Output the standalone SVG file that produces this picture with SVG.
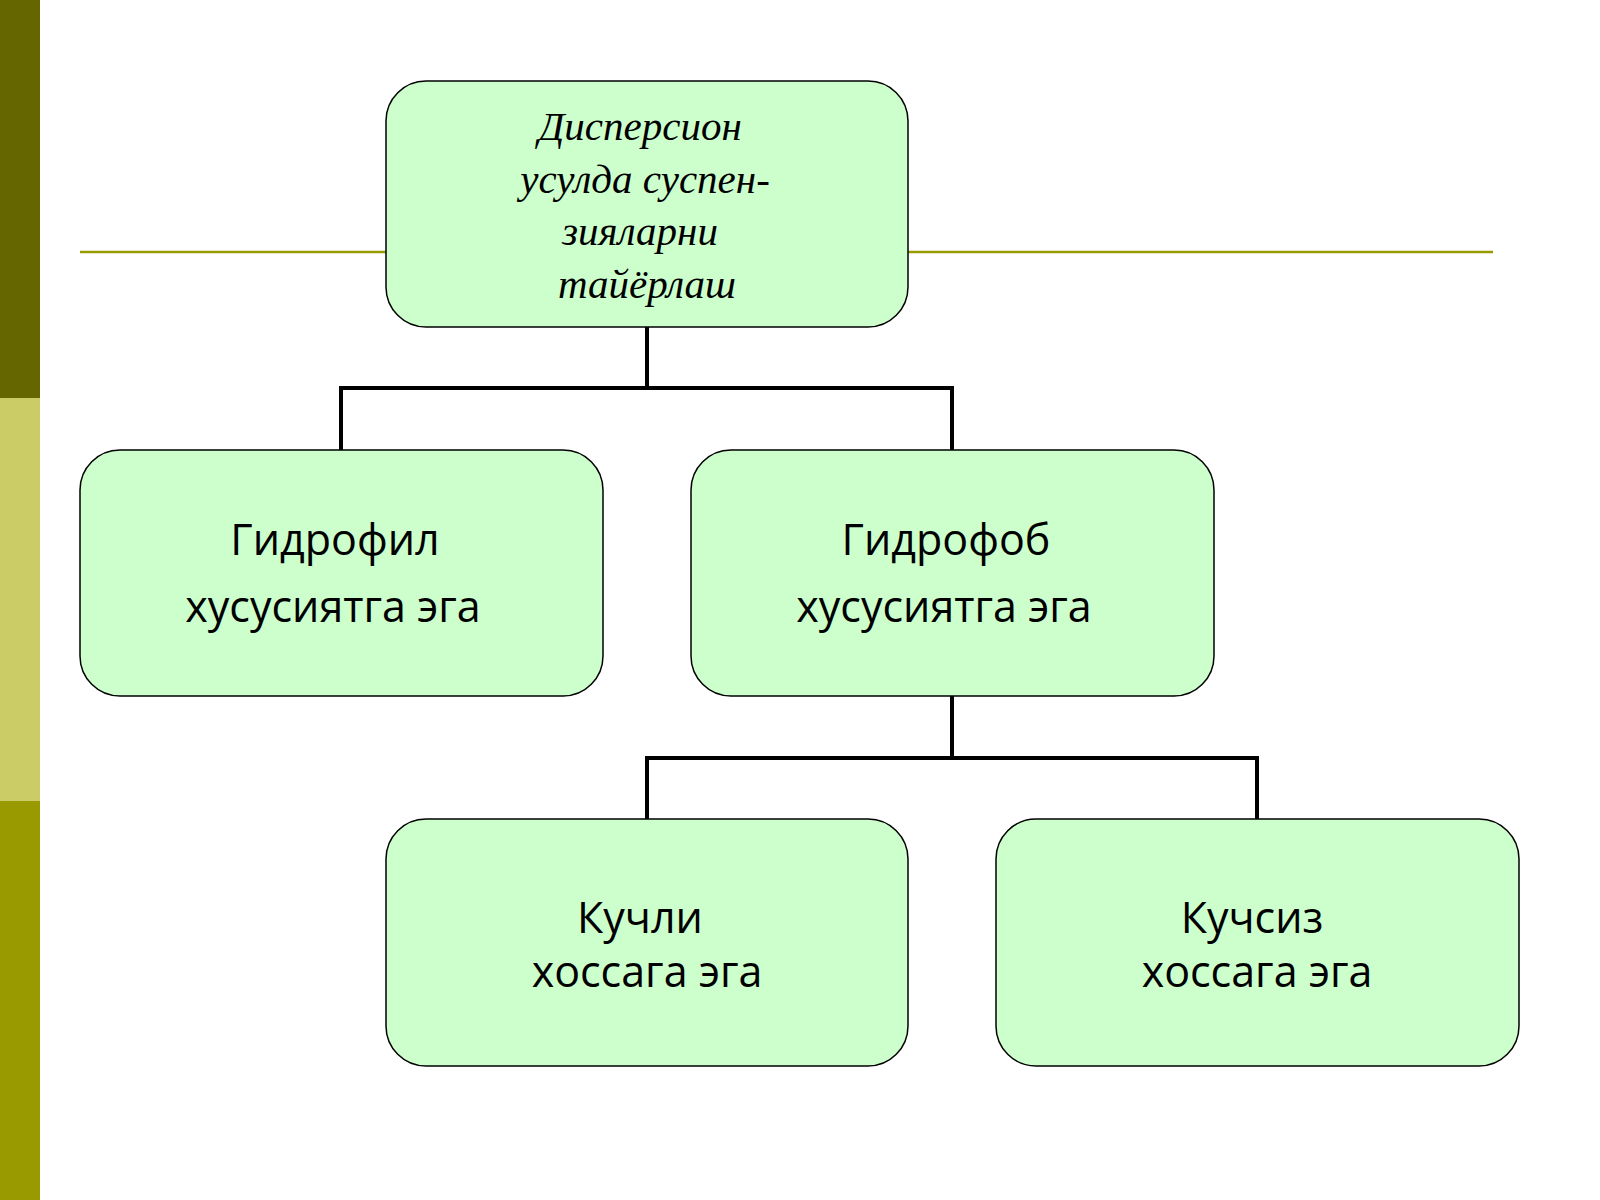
<svg xmlns="http://www.w3.org/2000/svg" width="1600" height="1200" viewBox="0 0 1600 1200">
<style>
.box{fill:#ccffcc;stroke:#000;stroke-width:1.5}
.t{font-family:"Open Sans","Noto Sans",sans-serif;font-size:43px;text-anchor:middle;fill:#000}
.ti{font-family:"Liberation Serif",serif;font-style:italic;font-size:41px;text-anchor:middle;fill:#000}
.c{fill:none;stroke:#000;stroke-width:4}
</style>
<rect width="1600" height="1200" fill="#fff"/>
<rect x="0" y="0" width="40" height="398" fill="#666600"/>
<rect x="0" y="398" width="40" height="403" fill="#cccc66"/>
<rect x="0" y="801" width="40" height="399" fill="#999900"/>
<line x1="80" y1="252" x2="1493" y2="252" stroke="#999900" stroke-width="2.5"/>
<g id="connectors">
<path class="c" d="M647 327V388M341 450V388H952V450"/>
<path class="c" d="M952 696V758M647 819V758H1257V819"/>
</g>
<g id="n0"><rect class="box" x="386" y="81" width="522" height="246" rx="40"/>
<text class="ti"><tspan x="640" y="140">Дисперсион</tspan><tspan x="645" y="193">усулда суспен-</tspan><tspan x="640" y="245">зияларни</tspan><tspan x="647" y="298">тайёрлаш</tspan></text></g>
<g id="n1"><rect class="box" x="80" y="450" width="523" height="246" rx="40"/>
<text class="t"><tspan x="335" y="555">Гидрофил</tspan><tspan x="333" y="622">хусусиятга эга</tspan></text></g>
<g id="n2"><rect class="box" x="691" y="450" width="523" height="246" rx="40"/>
<text class="t"><tspan x="946" y="555">Гидрофоб</tspan><tspan x="944" y="622">хусусиятга эга</tspan></text></g>
<g id="n3"><rect class="box" x="386" y="819" width="522" height="247" rx="40"/>
<text class="t"><tspan x="640" y="933">Кучли</tspan><tspan x="647" y="987">хоссага эга</tspan></text></g>
<g id="n4"><rect class="box" x="996" y="819" width="523" height="247" rx="40"/>
<text class="t"><tspan x="1252" y="933">Кучсиз</tspan><tspan x="1257" y="987">хоссага эга</tspan></text></g>
</svg>
